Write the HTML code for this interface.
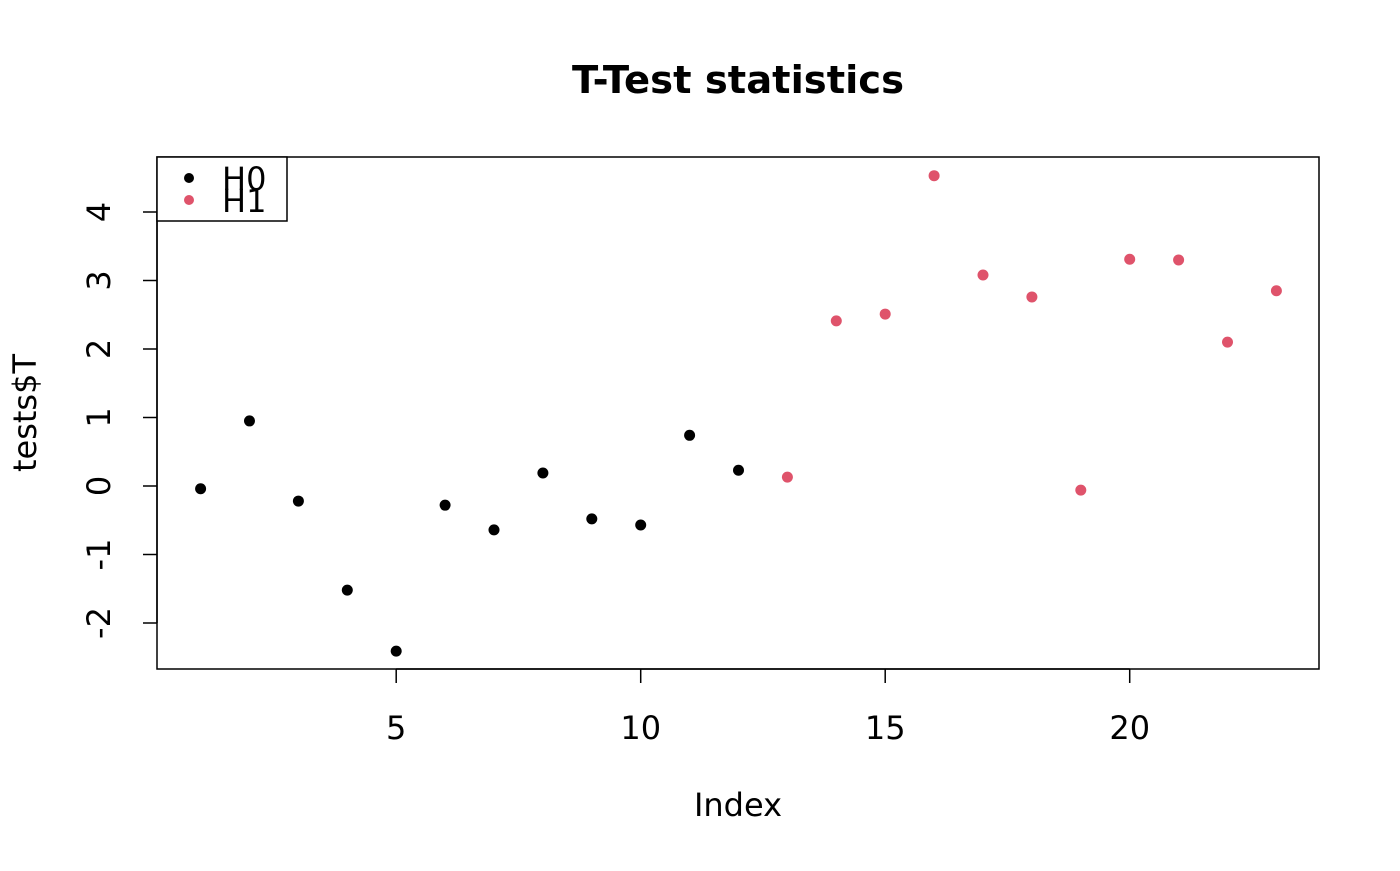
<!DOCTYPE html>
<html><head><meta charset="utf-8"><style>
body{margin:0;background:#fff}
svg text{font-family:"DejaVu Sans","Liberation Sans",sans-serif}
</style></head><body>
<svg id="chart" width="1400" height="866" xmlns="http://www.w3.org/2000/svg">
<text x="738" y="93" text-anchor="middle" font-size="38.5" font-weight="bold">T-Test statistics</text>
<rect x="157" y="157" width="1162" height="512" fill="none" stroke="#000" stroke-width="1.5"/>
<g id="xaxis"></g>
<g id="yaxis"></g>
<text x="738" y="816" text-anchor="middle" font-size="32">Index</text>
<text transform="translate(36,413) rotate(-90)" text-anchor="middle" font-size="32">tests$T</text>
<g id="points"></g>
<g>
<rect x="157" y="157" width="130" height="64" fill="#fff" stroke="#000" stroke-width="1.5"/>
<circle cx="189" cy="178" r="5" fill="#000"/>
<text x="222" y="190" font-size="32">H0</text>
<circle cx="189" cy="200" r="5" fill="#DF536B"/>
<text x="222" y="212" font-size="32">H1</text>
</g>
</svg>
<script>
const values=[-0.04,0.95,-0.22,-1.52,-2.41,-0.28,-0.64,0.19,-0.48,-0.57,0.74,0.23,0.13,2.41,2.51,4.53,3.08,2.76,-0.06,3.31,3.30,2.10,2.85];
const groups=["H0","H0","H0","H0","H0","H0","H0","H0","H0","H0","H0","H0","H1","H1","H1","H1","H1","H1","H1","H1","H1","H1","H1"];
const xTicks=[5,10,15,20];
const yTicks=[-2,-1,0,1,2,3,4];
const NS="http://www.w3.org/2000/svg";
function xs(v){return 200.6+(v-1)*48.9;}
function ys(v){return 486-v*68.5;}
function mk(t,a,p){const e=document.createElementNS(NS,t);for(const k in a)e.setAttribute(k,a[k]);p.appendChild(e);return e;}
const xa=document.getElementById('xaxis'),ya=document.getElementById('yaxis'),pts=document.getElementById('points');
mk('line',{x1:xs(5),x2:xs(20),y1:669,y2:669,stroke:'#000','stroke-width':1.5},xa);
xTicks.forEach(t=>{
 const l=mk('line',{x1:xs(t),x2:xs(t),y1:669,y2:683,stroke:'#000','stroke-width':1.5},xa);
 
 
 const tx=mk('text',{x:xs(t),y:739,'text-anchor':'middle','font-size':32},xa);tx.textContent=t;
 
 
});
mk('line',{x1:157,x2:157,y1:ys(-2),y2:ys(4),stroke:'#000','stroke-width':1.5},ya);
yTicks.forEach(t=>{
 const l=mk('line',{x1:143,x2:157,y1:ys(t),y2:ys(t),stroke:'#000','stroke-width':1.5},ya);
 
 
 const tx=mk('text',{transform:`translate(110,${ys(t)}) rotate(-90)`,'text-anchor':'middle','font-size':32},ya);tx.textContent=t;
 
 
});
values.forEach((v,i)=>{
 const c=mk('circle',{cx:xs(i+1),cy:ys(v),r:5.5,fill:groups[i]==="H0"?'#000':'#DF536B'},pts);
 
 
});
</script>
</body></html>
